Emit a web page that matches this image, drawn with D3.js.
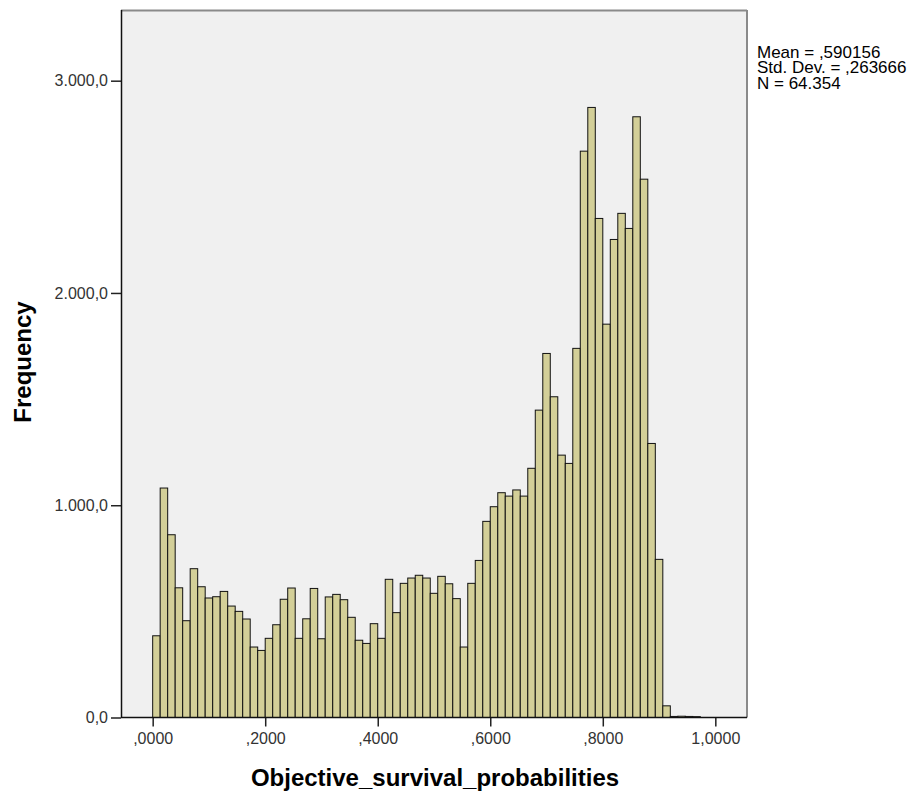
<!DOCTYPE html>
<html>
<head>
<meta charset="utf-8">
<script src="https://cdn.jsdelivr.net/npm/d3@7"></script>
<style>
  body { margin: 0; background: #fff; }
  svg { display: block; font-family: Arial, "Liberation Sans", sans-serif; }
</style>
</head>
<body>
<svg id="chart" width="915" height="796"></svg>
<script>
// histogram counts, one per bin of width 1/75 starting at 0
var binWidth = 1 / 75;
var counts = [
  385, 1081, 861, 611, 456, 701, 616, 563, 569, 594, 525, 500, 464, 332, 316,
  373, 437, 557, 610, 373, 465, 608, 371, 568, 580, 555, 472, 364, 349, 442,
  373, 651, 494, 632, 657, 670, 657, 585, 665, 630, 560, 332, 632, 740, 924,
  993, 1059, 1043, 1072, 1043, 1174, 1448, 1715, 1511, 1236, 1197, 1739, 2668, 2874, 2351,
  1853, 2252, 2375, 2304, 2830, 2536, 1291, 745, 55, 5, 6, 5, 4, 0, 0
];
var xTicks = [0, 0.2, 0.4, 0.6, 0.8, 1];
var yTicks = [0, 1000, 2000, 3000];
var statLines = ['Mean = ,590156', 'Std. Dev. = ,263666', 'N = 64.354'];
var xTitle = 'Objective_survival_probabilities';
var yTitle = 'Frequency';

var margin = {top: 10, left: 121};
var width = 626, height = 707.5;

var locale = d3.formatLocale({decimal: ',', thousands: '.', grouping: [3], currency: ['', '']});
var fmtY = locale.format(',.1f');
var fmtX = function(d) { return locale.format('.4f')(d).replace(/^0/, ''); };

var svg = d3.select('#chart');
var g = svg.append('g').attr('transform', 'translate(' + margin.left + ',' + margin.top + ')');

var x = d3.scaleLinear().domain([-0.0563, 1.0563]).range([0, width]);
var y = d3.scaleLinear().domain([0, 3333]).range([height, 0]);

g.append('rect')
  .attr('width', width).attr('height', height)
  .attr('fill', '#f0f0f0');

g.selectAll('rect.bar')
  .data(counts)
  .enter().append('rect')
  .attr('class', 'bar')
  .attr('x', function(d, i) { return x(i * binWidth); })
  .attr('width', function(d, i) { return x((i + 1) * binWidth) - x(i * binWidth); })
  .attr('y', function(d) { return y(d); })
  .attr('height', function(d) { return height - y(d); })
  .attr('fill', '#d3cf98')
  .attr('stroke', '#111')
  .attr('stroke-width', 1);

// frame
g.append('line').attr('x1', 0).attr('x2', width).attr('y1', 0.5).attr('y2', 0.5)
  .attr('stroke', '#8a8a8a').attr('stroke-width', 2);
g.append('line').attr('x1', width).attr('x2', width).attr('y1', 0).attr('y2', height)
  .attr('stroke', '#8a8a8a').attr('stroke-width', 2);

var yAxis = g.append('g')
  .call(d3.axisLeft(y).tickValues(yTicks).tickSize(10).tickPadding(3).tickFormat(fmtY));
var xAxis = g.append('g')
  .attr('transform', 'translate(0,' + height + ')')
  .call(d3.axisBottom(x).tickValues(xTicks).tickSize(9).tickPadding(6).tickFormat(fmtX));

[xAxis, yAxis].forEach(function(a) {
  a.select('.domain').remove();
  a.selectAll('line').attr('stroke', '#222').attr('stroke-width', 1.5);
  a.selectAll('text').attr('fill', '#333').style('font-size', '16px');
});

g.append('line').attr('x1', 0.5).attr('x2', 0.5).attr('y1', 0).attr('y2', height)
  .attr('stroke', '#111').attr('stroke-width', 1.5);
g.append('line').attr('x1', 0).attr('x2', width).attr('y1', height).attr('y2', height)
  .attr('stroke', '#111').attr('stroke-width', 1.5);

svg.append('text')
  .attr('x', 435).attr('y', 786)
  .attr('text-anchor', 'middle')
  .style('font-size', '24px').style('font-weight', 'bold')
  .text(xTitle);

svg.append('text')
  .attr('transform', 'translate(31,362) rotate(-90)')
  .attr('text-anchor', 'middle')
  .style('font-size', '24px').style('font-weight', 'bold')
  .text(yTitle);

svg.append('g').selectAll('text')
  .data(statLines)
  .enter().append('text')
  .attr('x', 757)
  .attr('y', function(d, i) { return 57.5 + i * 15.5; })
  .style('font-size', '17px')
  .text(function(d) { return d; });
</script>
</body>
</html>
